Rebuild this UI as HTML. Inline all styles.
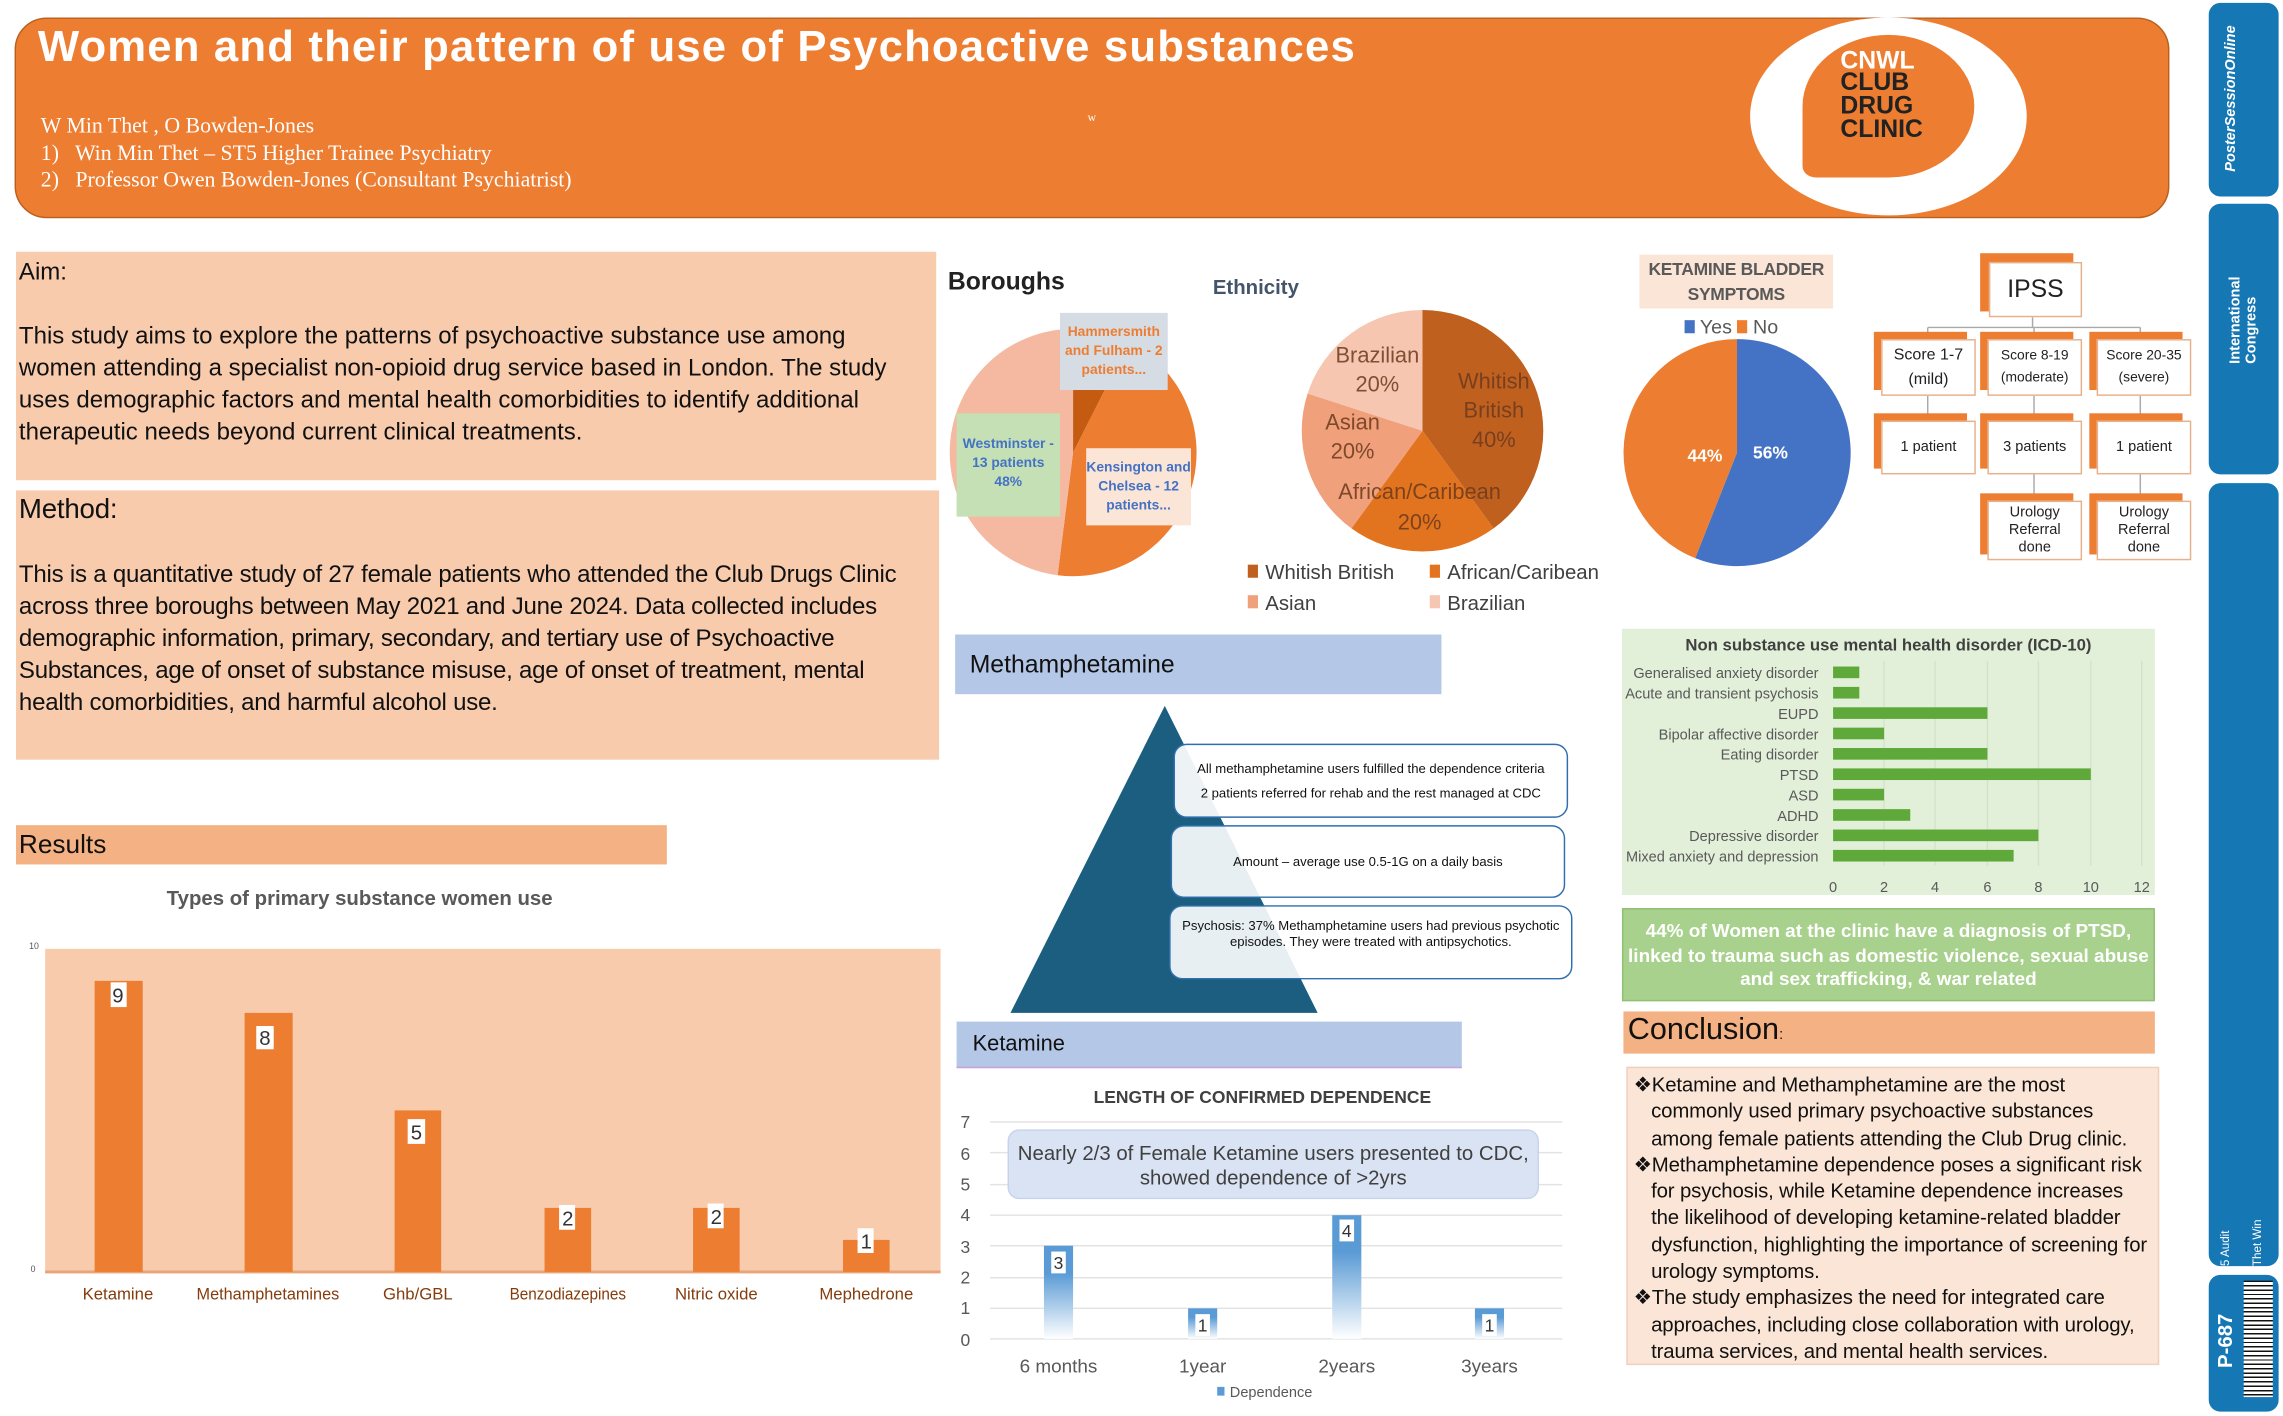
<!DOCTYPE html>
<html><head><meta charset="utf-8"><style>
*{margin:0;padding:0;box-sizing:border-box}
body{width:2283px;height:1416px;overflow:hidden;background:#fff;font-family:"Liberation Sans",sans-serif}
#s{width:1568px;height:973px;position:relative;transform:scale(1.45599,1.4553);transform-origin:0 0}
.a{position:absolute}
.box{position:absolute;background:#fff;border:1px solid #e6b08a;text-align:center;font-size:11px;color:#222;display:flex;align-items:center;justify-content:center;flex-direction:column;line-height:1.5}
.sh{position:absolute;background:#ED7D31}
</style></head><body><div id="s">
<!-- header -->
<div class="a" style="left:10px;top:12px;width:1480px;height:138px;background:#ED7D31;border:1px solid #b8601f;border-radius:22px"></div>
<div class="a" style="left:26px;top:16px;font:bold 30px 'Liberation Sans',sans-serif;color:#fff;letter-spacing:0.8px;white-space:nowrap">Women and their pattern of use of Psychoactive substances</div>
<div class="a" style="left:28px;top:78px;font:15px 'Liberation Serif',serif;color:#fff;line-height:18.5px">W Min Thet , O Bowden-Jones<br>1)&nbsp;&nbsp; Win Min Thet – ST5 Higher Trainee Psychiatry<br>2)&nbsp;&nbsp; Professor Owen Bowden-Jones (Consultant Psychiatrist)</div>
<div class="a" style="left:747px;top:76px;font:8px serif;color:#fff">w</div>
<div class="a" style="left:1202px;top:12px;width:190px;height:136px;background:#fff;border-radius:50%"></div>
<div class="a" style="left:1238px;top:24px;width:118px;height:98px;background:#ED7D31;border-radius:50% 50% 50% 8%"></div>
<div class="a" style="left:1264px;top:34px;font:bold 17px/16px 'Liberation Sans',sans-serif;color:#fff;text-align:left">CNWL</div>
<div class="a" style="left:1264px;top:49px;font:bold 17px/16px 'Liberation Sans',sans-serif;color:#222">CLUB<br>DRUG<br>CLINIC</div>
<!-- sidebar -->
<div class="a" style="left:1517px;top:2px;width:48px;height:133px;background:#1677b5;border-radius:8px"></div>
<div class="a" style="left:1517px;top:140px;width:48px;height:186px;background:#1677b5;border-radius:8px"></div>
<div class="a" style="left:1517px;top:332px;width:48px;height:538px;background:#1677b5;border-radius:8px"></div>
<div class="a" style="left:1517px;top:876px;width:48px;height:94px;background:#1677b5;border-radius:8px"></div>
<div class="a" style="left:1541px;top:880px;width:20px;height:80px;background:repeating-linear-gradient(#111 0 1px,#fff 1px 3px)"></div>
<div class="a" style="left:1520px;top:940px;transform:rotate(-90deg);transform-origin:0 0;font:bold 14px 'Liberation Sans';color:#fff;width:70px">P-687</div>
<div class="a" style="left:1527px;top:118px;transform:rotate(-90deg);transform-origin:0 0;font:bold italic 10px 'Liberation Sans';color:#fff;width:110px">PosterSessionOnline</div>
<div class="a" style="left:1530px;top:250px;transform:rotate(-90deg);transform-origin:0 0;font:bold 10px 'Liberation Sans';color:#fff;width:90px">International Congress</div>
<div class="a" style="left:1524px;top:870px;transform:rotate(-90deg);transform-origin:0 0;font:8px 'Liberation Sans';color:#fff;width:40px">5 Audit</div>
<div class="a" style="left:1546px;top:870px;transform:rotate(-90deg);transform-origin:0 0;font:8px 'Liberation Sans';color:#fff;width:40px">Thet Win</div>
<!-- aim/method -->
<div class="a" style="left:11px;top:173px;width:632px;height:157px;background:#F8CBAD"></div>
<div class="a" style="left:13px;top:176px;font-size:16.5px;color:#111;line-height:22px;white-space:nowrap">Aim:<br><br>This study aims to explore the patterns of psychoactive substance use among<br>women attending a specialist non-opioid drug service based in London. The study<br>uses demographic factors and mental health comorbidities to identify additional<br>therapeutic needs beyond current clinical treatments.</div>
<div class="a" style="left:11px;top:337px;width:634px;height:185px;background:#F8CBAD"></div>
<div class="a" style="left:13px;top:340px;font-size:16.5px;letter-spacing:-0.15px;color:#111;line-height:22px;white-space:nowrap"><span style="font-size:19px">Method:</span><br><br>This is a quantitative study of 27 female patients who attended the Club Drugs Clinic<br>across three boroughs between May 2021 and June 2024. Data collected includes<br>demographic information, primary, secondary, and tertiary use of Psychoactive<br>Substances, age of onset of substance misuse, age of onset of treatment, mental<br>health comorbidities, and harmful alcohol use.</div>
<div class="a" style="left:11px;top:567px;width:447px;height:27px;background:#F4B183;font-size:18px;padding:3px 2px;color:#111">Results</div>
<!-- bar chart -->
<div class="a" style="left:0;top:609px;width:494px;text-align:center;font-weight:bold;font-size:14px;color:#595959">Types of primary substance women use</div>
<div class="a" style="left:31px;top:652px;width:615px;height:223px;background:#F8CBAD;border-bottom:2px solid #e8a57c"></div>
<div class="a" style="left:20px;top:648px;font-size:6px;color:#555">10</div>
<div class="a" style="left:21px;top:870px;font-size:6px;color:#555">0</div>
<svg class="a" style="left:0;top:0" width="1100" height="973">
<g fill="#ED7D31">
<rect x="65" y="674" width="33" height="200"/><rect x="168" y="696" width="33" height="178"/><rect x="271" y="763" width="32" height="111"/>
<rect x="374" y="830" width="32" height="44"/><rect x="476" y="830" width="32" height="44"/><rect x="579" y="852" width="32" height="22"/>
</g>
<g fill="#fff"><rect x="76" y="675" width="11" height="17"/><rect x="176" y="705" width="12" height="16"/><rect x="280" y="769" width="12" height="17"/><rect x="384" y="828" width="11" height="17"/><rect x="486" y="827" width="11" height="17"/><rect x="589" y="844" width="11" height="17"/></g>
<g font-family="Liberation Sans" font-size="14" fill="#333" text-anchor="middle"><text x="81" y="689">9</text><text x="182" y="718">8</text><text x="286" y="783">5</text><text x="390" y="842">2</text><text x="492" y="841">2</text><text x="595" y="858">1</text></g>
<g font-family="Liberation Sans" font-size="11.5" fill="#843c0c" text-anchor="middle"><text x="81" y="893">Ketamine</text><text x="184" y="893" textLength="98" lengthAdjust="spacingAndGlyphs">Methamphetamines</text><text x="287" y="893">Ghb/GBL</text><text x="390" y="893" textLength="80" lengthAdjust="spacingAndGlyphs">Benzodiazepines</text><text x="492" y="893">Nitric oxide</text><text x="595" y="893">Mephedrone</text></g>
<!-- boroughs pie -->
<g transform="translate(737,311)">
<path d="M0,0 L0,-85 A85,85 0 0,1 38.4,-75.8 Z" fill="#C55A11"/>
<path d="M0,0 L38.4,-75.8 A85,85 0 0,1 -10.6,84.3 Z" fill="#ED7D31"/>
<path d="M0,0 L-10.6,84.3 A85,85 0 0,1 0,-85 Z" fill="#F4B9A0"/>
</g>
<!-- ethnicity pie -->
<g transform="translate(977,296)">
<path d="M0,0 L0,-83 A83,83 0 0,1 48.8,67.1 Z" fill="#C0601f"/>
<path d="M0,0 L48.8,67.1 A83,83 0 0,1 -48.8,67.1 Z" fill="#E2741f"/>
<path d="M0,0 L-48.8,67.1 A83,83 0 0,1 -78.9,-25.6 Z" fill="#F0A07a"/>
<path d="M0,0 L-78.9,-25.6 A83,83 0 0,1 0,-83 Z" fill="#F6C6B0"/>
</g>
<g font-family="Liberation Sans" font-size="15" fill="#6b3a1e" text-anchor="middle" opacity="0.85">
<text x="946" y="249">Brazilian</text><text x="946" y="269">20%</text><text x="1026" y="267">Whitish</text><text x="1026" y="287">British</text><text x="1026" y="307">40%</text>
<text x="929" y="295">Asian</text><text x="929" y="315">20%</text><text x="975" y="343">African/Caribean</text><text x="975" y="364">20%</text></g>
<g font-family="Liberation Sans" font-size="14" fill="#404040">
<rect x="857" y="388" width="7" height="9" fill="#C0601f"/><text x="869" y="398">Whitish British</text>
<rect x="982" y="388" width="7" height="9" fill="#E2741f"/><text x="994" y="398">African/Caribean</text>
<rect x="857" y="409" width="7" height="9" fill="#F0A07a"/><text x="869" y="419">Asian</text>
<rect x="982" y="409" width="7" height="9" fill="#F6C6B0"/><text x="994" y="419">Brazilian</text></g>
<!-- triangle -->
<path d="M800,485 L905,696 L694,696 Z" fill="#1b5e80"/>
<!-- dependence chart -->
<g stroke="#e3e3e3" stroke-width="1"><line x1="680" y1="771" x2="1073" y2="771"/><line x1="680" y1="792" x2="1073" y2="792"/><line x1="680" y1="814" x2="1073" y2="814"/><line x1="680" y1="835" x2="1073" y2="835"/><line x1="680" y1="856" x2="1073" y2="856"/><line x1="680" y1="878" x2="1073" y2="878"/><line x1="680" y1="899" x2="1073" y2="899"/><line x1="680" y1="920" x2="1073" y2="920"/></g>
<defs><linearGradient id="g" x1="0" y1="0" x2="0" y2="1"><stop offset="0.3" stop-color="#5B9BD5"/><stop offset="1" stop-color="#fff"/></linearGradient></defs>
<rect x="717" y="856" width="20" height="64" fill="url(#g)"/><rect x="816" y="899" width="20" height="21" fill="url(#g)"/><rect x="915" y="835" width="20" height="85" fill="url(#g)"/><rect x="1013" y="899" width="20" height="21" fill="url(#g)"/>
<g fill="#fff"><rect x="722" y="860" width="10" height="15"/><rect x="821" y="903" width="10" height="15"/><rect x="920" y="838" width="10" height="15"/><rect x="1018" y="903" width="10" height="15"/></g>
<g font-family="Liberation Sans" font-size="12" fill="#333" text-anchor="middle"><text x="727" y="872">3</text><text x="826" y="915">1</text><text x="925" y="850">4</text><text x="1023" y="915">1</text></g>
<g font-family="Liberation Sans" font-size="12" fill="#595959" text-anchor="middle"><text x="663" y="775">7</text><text x="663" y="797">6</text><text x="663" y="818">5</text><text x="663" y="839">4</text><text x="663" y="861">3</text><text x="663" y="882">2</text><text x="663" y="903">1</text><text x="663" y="925">0</text>
<text x="727" y="943" font-size="13">6 months</text><text x="826" y="943" font-size="13">1year</text><text x="925" y="943" font-size="13">2years</text><text x="1023" y="943" font-size="13">3years</text>
<text x="873" y="960" font-size="10">Dependence</text></g>
<rect x="836" y="953" width="5" height="6" fill="#5B9BD5"/>
<text x="867" y="758" font-family="Liberation Sans" font-weight="bold" font-size="12" fill="#404040" text-anchor="middle">LENGTH OF CONFIRMED DEPENDENCE</text>
</svg>
<div class="a" style="left:651px;top:184px;font-weight:bold;font-size:17px;color:#222">Boroughs</div>
<div class="a" style="left:833px;top:189px;font-weight:bold;font-size:14px;color:#44546A">Ethnicity</div>
<div class="a" style="left:728px;top:215px;width:74px;height:53px;background:#D6DCE4;color:#ED7D31;font-weight:bold;font-size:9.5px;text-align:center;line-height:13px;padding-top:7px">Hammersmith and Fulham - 2 patients...</div>
<div class="a" style="left:657px;top:284px;width:71px;height:71px;background:#C5E0B4;color:#4472C4;font-weight:bold;font-size:9.5px;text-align:center;line-height:13px;padding-top:15px">Westminster - 13 patients 48%</div>
<div class="a" style="left:746px;top:308px;width:72px;height:53px;background:#FBE5D6;color:#4472C4;font-weight:bold;font-size:9.5px;text-align:center;line-height:13px;padding-top:7px">Kensington and Chelsea - 12 patients...</div>
<!-- methamphetamine -->
<div class="a" style="left:656px;top:436px;width:334px;height:41px;background:#B4C7E7;font-size:17px;padding:11px 10px;color:#111">Methamphetamine</div>
<div class="a" style="left:806px;top:511px;width:271px;height:51px;background:rgba(255,255,255,0.92);border:1.5px solid #2f6fb0;border-radius:9px;font-size:9px;text-align:center;line-height:17px;padding-top:8px;color:#111">All methamphetamine users fulfilled the dependence criteria<br>2 patients referred for rehab and the rest managed at CDC</div>
<div class="a" style="left:804px;top:567px;width:271px;height:50px;background:rgba(255,255,255,0.9);border:1.5px solid #2f6fb0;border-radius:9px;font-size:9px;text-align:center;padding-top:19px;color:#111">Amount – average use 0.5-1G on a daily basis</div>
<div class="a" style="left:803px;top:622px;width:277px;height:51px;background:rgba(255,255,255,0.9);border:1.5px solid #2f6fb0;border-radius:9px;font-size:9px;text-align:center;line-height:11px;padding:8px 6px 0;color:#111">Psychosis: 37% Methamphetamine users had previous psychotic episodes. They were treated with antipsychotics.</div>
<div class="a" style="left:657px;top:702px;width:347px;height:32px;background:#B4C7E7;border-bottom:1px solid #c9a0dc;font-size:15px;padding:7px 11px;color:#111">Ketamine</div>
<div class="a" style="left:692px;top:776px;width:365px;height:48px;background:#DAE3F3;border:1px solid #c5d3ec;border-radius:8px;font-size:14px;text-align:center;line-height:17px;padding-top:7px;color:#404040">Nearly 2/3 of Female Ketamine users presented to CDC,<br>showed dependence of &gt;2yrs</div>
<!-- ketamine bladder -->
<div class="a" style="left:1126px;top:175px;width:133px;height:37px;background:#FBE5D6;font-weight:bold;font-size:12px;letter-spacing:-0.2px;color:#595959;text-align:center;line-height:17px;padding-top:2px">KETAMINE BLADDER SYMPTOMS</div>
<div class="a" style="left:1157px;top:217px;font-size:13.5px;color:#595959"><span style="display:inline-block;width:7px;height:9px;background:#4472C4"></span> Yes <span style="display:inline-block;width:7px;height:9px;background:#ED7D31"></span> No</div>
<svg class="a" style="left:1110px;top:228px" width="170" height="170"><g transform="translate(83,83)">
<path d="M0,0 L0,-78 A78,78 0 1,1 -28.7,72.5 Z" fill="#4472C4"/><path d="M0,0 L-28.7,72.5 A78,78 0 0,1 0,-78 Z" fill="#ED7D31"/></g>
<text x="61" y="89" font-family="Liberation Sans" font-weight="bold" font-size="12" fill="#fff" text-anchor="middle">44%</text><text x="106" y="87" font-family="Liberation Sans" font-weight="bold" font-size="12" fill="#fff" text-anchor="middle">56%</text></svg>
<!-- IPSS -->
<svg class="a" style="left:1280px;top:170px" width="240" height="230"><g stroke="#aaa" fill="none"><path d="M116,48 V55 M44,55 H190 M44,55 V60 M117,55 V60 M190,55 V60 M44,102 V117 M117,102 V117 M190,102 V117 M117,156 V172 M190,156 V172"/></g></svg>
<div class="sh" style="left:1360px;top:174px;width:64px;height:40px"></div><div class="box" style="left:1366px;top:180px;width:64px;height:38px;font-size:17px">IPSS</div>
<div class="sh" style="left:1287px;top:228px;width:64px;height:40px"></div><div class="box" style="left:1292px;top:233px;width:65px;height:39px;font-size:11px">Score 1-7<br>(mild)</div>
<div class="sh" style="left:1360px;top:228px;width:64px;height:40px"></div><div class="box" style="left:1365px;top:233px;width:65px;height:39px;font-size:9.5px">Score 8-19<br>(moderate)</div>
<div class="sh" style="left:1435px;top:228px;width:64px;height:40px"></div><div class="box" style="left:1440px;top:233px;width:65px;height:39px;font-size:9.5px">Score 20-35<br>(severe)</div>
<div class="sh" style="left:1287px;top:284px;width:64px;height:38px"></div><div class="box" style="left:1292px;top:289px;width:65px;height:37px;font-size:10px">1 patient</div>
<div class="sh" style="left:1360px;top:284px;width:64px;height:38px"></div><div class="box" style="left:1365px;top:289px;width:65px;height:37px;font-size:10px">3 patients</div>
<div class="sh" style="left:1435px;top:284px;width:64px;height:38px"></div><div class="box" style="left:1440px;top:289px;width:65px;height:37px;font-size:10px">1 patient</div>
<div class="sh" style="left:1360px;top:339px;width:64px;height:42px"></div><div class="box" style="left:1365px;top:344px;width:65px;height:41px;font-size:10px;line-height:12px">Urology<br>Referral<br>done</div>
<div class="sh" style="left:1435px;top:339px;width:64px;height:42px"></div><div class="box" style="left:1440px;top:344px;width:65px;height:41px;font-size:10px;line-height:12px">Urology<br>Referral<br>done</div>
<!-- mental health chart -->
<div class="a" style="left:1114px;top:432px;width:366px;height:183px;background:#E2F0D9"></div>
<svg class="a" style="left:1100px;top:430px" width="390" height="190" font-family="Liberation Sans">
<text x="197" y="17" font-weight="bold" font-size="11.5" fill="#404040" text-anchor="middle">Non substance use mental health disorder (ICD-10)</text>
<g stroke="#d4e3c8"><line x1="194" y1="24" x2="194" y2="165"/><line x1="229" y1="24" x2="229" y2="165"/><line x1="265" y1="24" x2="265" y2="165"/><line x1="300" y1="24" x2="300" y2="165"/><line x1="336" y1="24" x2="336" y2="165"/><line x1="371" y1="24" x2="371" y2="165"/></g>
<g fill="#5fa83a">
<rect x="159" y="28" width="18" height="8"/><rect x="159" y="42" width="18" height="8"/><rect x="159" y="56" width="106" height="8"/><rect x="159" y="70" width="35" height="8"/><rect x="159" y="84" width="106" height="8"/><rect x="159" y="98" width="177" height="8"/><rect x="159" y="112" width="35" height="8"/><rect x="159" y="126" width="53" height="8"/><rect x="159" y="140" width="141" height="8"/><rect x="159" y="154" width="124" height="8"/></g>
<g font-size="10" fill="#595959" text-anchor="end">
<text x="149" y="36">Generalised anxiety disorder</text><text x="149" y="50">Acute and transient psychosis</text><text x="149" y="64">EUPD</text><text x="149" y="78">Bipolar affective disorder</text><text x="149" y="92">Eating disorder</text><text x="149" y="106">PTSD</text><text x="149" y="120">ASD</text><text x="149" y="134">ADHD</text><text x="149" y="148">Depressive disorder</text><text x="149" y="162">Mixed anxiety and depression</text></g>
<g font-size="10" fill="#595959" text-anchor="middle"><text x="159" y="183">0</text><text x="194" y="183">2</text><text x="229" y="183">4</text><text x="265" y="183">6</text><text x="300" y="183">8</text><text x="336" y="183">10</text><text x="371" y="183">12</text></g></svg>
<div class="a" style="left:1114px;top:624px;width:366px;height:64px;background:#A9D18E;border:1px solid #8fbf70;color:#fff;font-weight:bold;font-size:13px;text-align:center;line-height:16.5px;padding-top:7px">44% of Women at the clinic have a diagnosis of PTSD, linked to trauma such as domestic violence, sexual abuse and sex trafficking, &amp; war related</div>
<div class="a" style="left:1115px;top:695px;width:365px;height:29px;background:#F4B183;font-size:21px;padding:1px 3px;color:#111">Conclusion<span style="font-size:10px">:</span></div>
<div class="a" style="left:1117px;top:733px;width:366px;height:205px;background:#FBE5D6;border:1px solid #f0d0bb;font-size:14px;letter-spacing:-0.1px;line-height:18.3px;padding:2px 4px 0 16px;text-indent:-12px;color:#111">
<div>❖Ketamine and Methamphetamine are the most commonly used primary psychoactive substances among female patients attending the Club Drug clinic.</div>
<div>❖Methamphetamine dependence poses a significant risk for psychosis, while Ketamine dependence increases the likelihood of developing ketamine-related bladder dysfunction, highlighting the importance of screening for urology symptoms.</div>
<div>❖The study emphasizes the need for integrated care approaches, including close collaboration with urology, trauma services, and mental health services.</div></div>
</div></body></html>
